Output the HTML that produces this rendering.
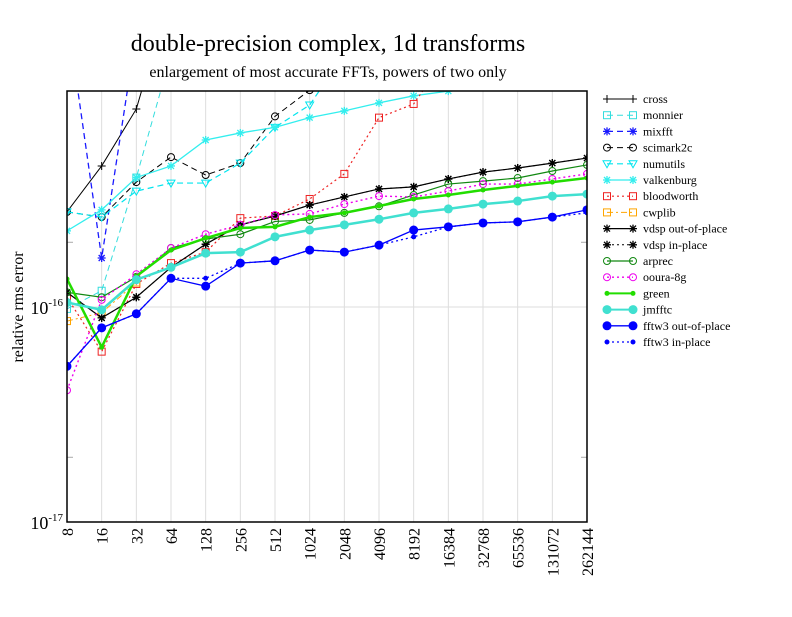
<!DOCTYPE html>
<html><head><meta charset="utf-8"><style>
body{margin:0;background:#fff}
svg text{font-family:"Liberation Serif",serif}
</style></head><body>
<svg id="c" width="792" height="612" xmlns="http://www.w3.org/2000/svg">
<rect width="792" height="612" fill="#fff"/>
<text x="328" y="51" font-size="24" text-anchor="middle">double-precision complex, 1d transforms</text>
<text x="328" y="77" font-size="16" text-anchor="middle">enlargement of most accurate FFTs, powers of two only</text>
<text transform="translate(23,307) rotate(-90)" font-size="16" text-anchor="middle">relative rms error</text>
<defs><clipPath id="pc"><rect x="67" y="91" width="520" height="431"/></clipPath></defs>
<g id="grid"></g><g id="series" clip-path="url(#pc)"></g><g id="axes"></g><g id="legend"></g>
</svg>
<script>
const categories=["8","16","32","64","128","256","512","1024","2048","4096","8192","16384","32768","65536","131072","262144"];
const cross=[2.77,4.53,8.34,30];
const monnier=[0.98,1.19,4.0,15];
const mixfft=[23,1.69,19];
const scimark2c=[2.77,2.62,3.81,4.98,4.11,4.67,7.7,10.2,15];
const numutils=[2.77,2.62,3.46,3.77,3.77,4.67,6.85,8.7,15];
const valkenburg=[2.26,2.83,4.0,4.53,5.98,6.45,6.85,7.6,8.17,8.9,9.6,10.1,10.8];
const bloodworth=[1.11,0.62,1.28,1.6,1.8,2.59,2.65,3.18,4.16,7.6,8.8,15];
const cwplib=[0.86,0.94,1.3];
const vdspOut=[1.17,0.89,1.11,1.53,1.96,2.41,2.65,2.98,3.25,3.54,3.62,3.94,4.24,4.43,4.67,4.93];
const vdspIn=[1.17,0.89,1.11,1.53,1.96,2.41,2.65,2.98,3.25,3.54,3.62,3.94,4.24,4.43,4.67,4.93];
const arprec=[1.17,1.11,1.38,1.88,2.07,2.18,2.5,2.54,2.74,2.94,3.32,3.73,3.85,3.98,4.29,4.58];
const ooura=[0.41,1.08,1.42,1.88,2.18,2.41,2.68,2.71,3.01,3.28,3.25,3.46,3.73,3.73,3.94,4.16];
const green=[1.35,0.65,1.39,1.84,2.09,2.33,2.36,2.62,2.74,2.95,3.18,3.32,3.5,3.66,3.81,3.98];
const jmfftc=[1.05,0.97,1.34,1.53,1.78,1.80,2.12,2.28,2.41,2.56,2.74,2.86,3.01,3.11,3.28,3.35];
const fftw3Out=[0.53,0.80,0.93,1.36,1.25,1.6,1.64,1.84,1.8,1.94,2.28,2.36,2.46,2.49,2.62,2.83];
const fftw3In=[0.53,0.80,0.93,1.36,1.36,1.6,1.64,1.84,1.8,1.94,2.12,2.36,2.46,2.49,2.62,2.74];
const yTicks=[1e-17,1e-16];
const NS="http://www.w3.org/2000/svg";
const X0=67,X1=587,Y0=522,DEC=215;
function xs(i){return X0+i*(X1-X0)/(categories.length-1);}
function ys(v){return Y0-(Math.log10(v*1e-16)+17)*DEC;}
function mk(tag,attrs,parent){const e=document.createElementNS(NS,tag);for(const k in attrs)e.setAttribute(k,attrs[k]);parent.appendChild(e);return e;}
const G=document.getElementById('grid'),S=document.getElementById('series'),A=document.getElementById('axes'),L=document.getElementById('legend');
categories.forEach((c,i)=>{const x=xs(i);
 const g=mk('line',{x1:x,x2:x,y1:91,y2:522,stroke:'#ddd','stroke-width':1},G);
 
 
 const t=mk('text',{transform:`translate(${x+6},${528}) rotate(-90)`,'font-size':16,'text-anchor':'end'},A);
 t.textContent=c;
 
 
});
const hl=mk('line',{x1:X0,x2:X1,y1:ys(1),y2:ys(1),stroke:'#ddd'},G);


[2,0.2].forEach(v=>{const y=ys(v);
 mk('line',{x1:X0,x2:X0+6,y1:y,y2:y,stroke:'#aaa'},A);mk('line',{x1:X1-6,x2:X1,y1:y,y2:y,stroke:'#aaa'},A);});
yTicks.forEach(v=>{const y=Y0-(Math.log10(v)+17)*DEC;
 const t=mk('text',{x:63,y:y+7,'font-size':18,'text-anchor':'end'},A);
 t.innerHTML='10<tspan dy="-8" font-size="11">'+Math.round(Math.log10(v))+'</tspan>';
 
 
});
mk('rect',{x:X0,y:91,width:X1-X0,height:Y0-91,fill:'none',stroke:'#000','stroke-width':1.5},A);
function marker(p,type,col,x,y){
 if(type==='plus'){mk('path',{d:`M${x-4} ${y}h8M${x} ${y-4}v8`,stroke:col,fill:'none'},p);}
 else if(type==='sq'){mk('rect',{x:x-3.5,y:y-3.5,width:7,height:7,stroke:col,fill:'none'},p);}
 else if(type==='circ'){mk('circle',{cx:x,cy:y,r:3.5,stroke:col,fill:'none'},p);}
 else if(type==='tri'){mk('path',{d:`M${x-4} ${y-3}h8l-4 7z`,stroke:col,fill:'none'},p);}
 else if(type==='star'){mk('path',{d:`M${x-4} ${y}h8M${x} ${y-4}v8M${x-3} ${y-3}l6 6M${x+3} ${y-3}l-6 6`,stroke:col,fill:'none','stroke-width':1.3},p);}
 else if(type==='dot'){mk('circle',{cx:x,cy:y,r:2.5,fill:col},p);}
 else if(type==='big'){mk('circle',{cx:x,cy:y,r:4.5,fill:col},p);}
}
const defs=[
 ['cross',cross,'#000','',1,'plus'],
 ['monnier',monnier,'#33dddd','6,4',1,'sq'],
 ['mixfft',mixfft,'#1a1aff','6,4',1.3,'star'],
 ['scimark2c',scimark2c,'#000','6,4',1,'circ'],
 ['numutils',numutils,'#00e5ee','6,4',1.2,'tri'],
 ['valkenburg',valkenburg,'#33eeee','',1.3,'star'],
 ['bloodworth',bloodworth,'#ee2222','2,3',1.2,'sq'],
 ['cwplib',cwplib,'#ffa500','6,3,2,3',1,'sq'],
 ['vdsp out-of-place',vdspOut,'#000','',1.2,'star'],
 ['vdsp in-place',vdspIn,'#000','2,3',1,'star'],
 ['arprec',arprec,'#118811','',1.2,'circ'],
 ['ooura-8g',ooura,'#ee00ee','2,3',1.4,'circ'],
 ['green',green,'#22dd00','',2.5,'dot'],
 ['jmfftc',jmfftc,'#40e0d0','',2.5,'big'],
 ['fftw3 out-of-place',fftw3Out,'#0000ff','',1.3,'big'],
 ['fftw3 in-place',fftw3In,'#0000ff','2,3',1.3,'dot']
];
defs.forEach((d,k)=>{
 const [name,vals,col,dash,w,m]=d;
 const g=mk('g',{},S);
 
 
 const pts=vals.map((v,i)=>xs(i)+','+ys(v)).join(' ');
 const pl=mk('polyline',{points:pts,fill:'none',stroke:col,'stroke-width':w},g);
 if(dash)pl.setAttribute('stroke-dasharray',dash);
 vals.forEach((v,i)=>marker(g,m,col,xs(i),ys(v)));
 const y=99+16.2*k;
 const lg=mk('g',{},L);
 
 
 const ll=mk('line',{x1:607,x2:633,y1:y,y2:y,stroke:col,'stroke-width':Math.min(w,2)},lg);
 if(dash)ll.setAttribute('stroke-dasharray',dash);
 marker(lg,m,col,607,y);marker(lg,m,col,633,y);
 const t=mk('text',{x:643,y:y+4,'font-size':12},lg);t.textContent=name;
});
</script>
</body></html>
